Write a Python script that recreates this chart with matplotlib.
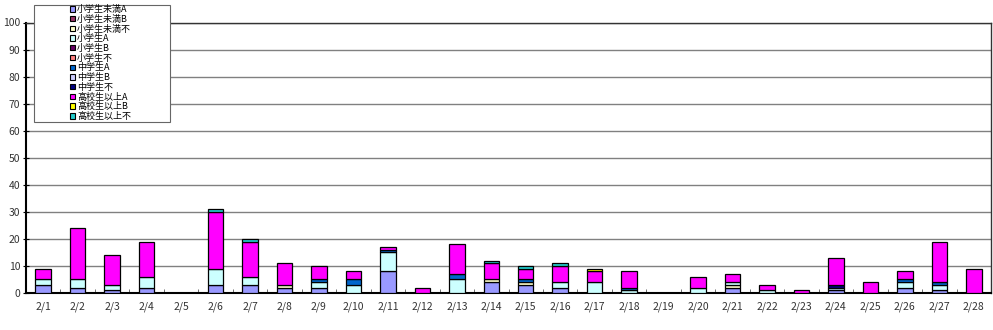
import matplotlib.pyplot as plt
import matplotlib.patches as mpatches
import numpy as np

plt.rcParams['font.family'] = ['Noto Sans CJK JP', 'DejaVu Sans']

days = ["2/" + str(d) for d in range(1, 29)]

series_names = ["小学生未満A", "小学生未満B", "小学生未満不",
                "小学生A", "小学生B", "小学生不",
                "中学生A", "中学生B", "中学生不",
                "高校生以上A", "高校生以上B", "高校生以上不"]
colors = ["#9999FF", "#993366", "#FFFFCC",
          "#CCFFFF", "#660066", "#FF8080",
          "#0066CC", "#CCCCFF", "#000080",
          "#FF00FF", "#FFFF00", "#22CCCC"]

mimanA = [3,2,1,2,0,3,3,2,2,0,8,0,0,4,3,2,0,0,0,0,2,0,0,1,0,2,1,0]
mimanB = [0]*28
mimanF = [0,0,0,0,0,0,0,1,0,0,0,0,0,1,1,0,0,0,0,0,1,0,0,0,0,0,0,0]
shoA   = [2,3,2,4,0,6,3,0,2,3,7,0,5,0,0,2,4,1,0,2,1,1,0,1,0,2,2,0]
shoB   = [0]*28
shoF   = [0]*28
chuA   = [0,0,0,0,0,0,0,0,1,2,1,0,2,0,1,0,0,1,0,0,0,0,0,0,0,1,1,0]
chuB   = [0]*28
chuF   = [0,0,0,0,0,0,0,0,0,0,0,0,0,0,0,0,0,0,0,0,0,0,0,1,0,0,0,0]
kouA   = [4,19,11,13,0,21,13,8,5,3,1,2,11,6,4,6,4,6,0,4,3,2,1,10,4,3,15,9]
kouB   = [0,0,0,0,0,0,0,0,0,0,0,0,0,0,0,0,1,0,0,0,0,0,0,0,0,0,0,0]
kouF   = [0,0,0,0,0,1,1,0,0,0,0,0,0,1,1,1,0,0,0,0,0,0,0,0,0,0,0,0]

data = [mimanA, mimanB, mimanF, shoA, shoB, shoF,
        chuA, chuB, chuF, kouA, kouB, kouF]

fig = plt.figure(figsize=(9.93, 3.30), dpi=100)
ax = fig.add_axes([26/993, 37/330, 965/993, 270.5/330])

x = np.arange(len(days))
bottom = np.zeros(len(days))
for name, vals, c in zip(series_names, data, colors):
    vals = np.array(vals, dtype=float)
    m = vals > 0
    ax.bar(x[m], vals[m], bottom=bottom[m], width=0.45, color=c,
           edgecolor='black', linewidth=0.9, zorder=3)
    bottom += vals

ax.set_xlim(-0.5, len(days) - 0.5)
ax.set_ylim(0, 100)
ax.set_yticks(range(0, 101, 10))
ax.set_xticks(x)
ax.set_xticklabels(days)
ax.set_xticks(np.arange(0.5, len(days) - 1, 1), minor=True)
ax.tick_params(axis='x', which='major', length=0, labelsize=7.5, pad=6)
ax.tick_params(axis='x', which='minor', length=3, direction='in', color='#555555')
ax.tick_params(axis='y', length=4, direction='inout', labelsize=7.5, pad=2, color='black')
for t in ax.get_xticklabels() + ax.get_yticklabels():
    t.set_color('#333333')
ax.grid(axis='y', color='#808080', linewidth=1, zorder=0)
for s in ['left', 'bottom']:
    ax.spines[s].set_linewidth(1.5)
    ax.spines[s].set_color('black')
for s in ['top', 'right']:
    ax.spines[s].set_linewidth(1)
    ax.spines[s].set_color('#333333')

# legend frame drawn separately (Excel style, wide box)
frame = mpatches.Rectangle((34/993, 1 - 122/330), 136/993, 117/330,
                           transform=fig.transFigure, facecolor='white',
                           edgecolor='#666666', linewidth=0.8, zorder=5)
fig.patches.append(frame)
handles = [mpatches.Patch(facecolor=c, edgecolor='black', linewidth=0.8)
           for c in colors]
leg = fig.legend(handles, series_names, loc='upper left',
                 bbox_to_anchor=(70/993, 1 - 5/330), frameon=False,
                 fontsize=6.5, handlelength=0.6, handleheight=0.55,
                 handletextpad=0.2, labelspacing=0.08, borderpad=0,
                 borderaxespad=0)
leg.set_zorder(6)

fig.savefig('out.png', dpi=100)
